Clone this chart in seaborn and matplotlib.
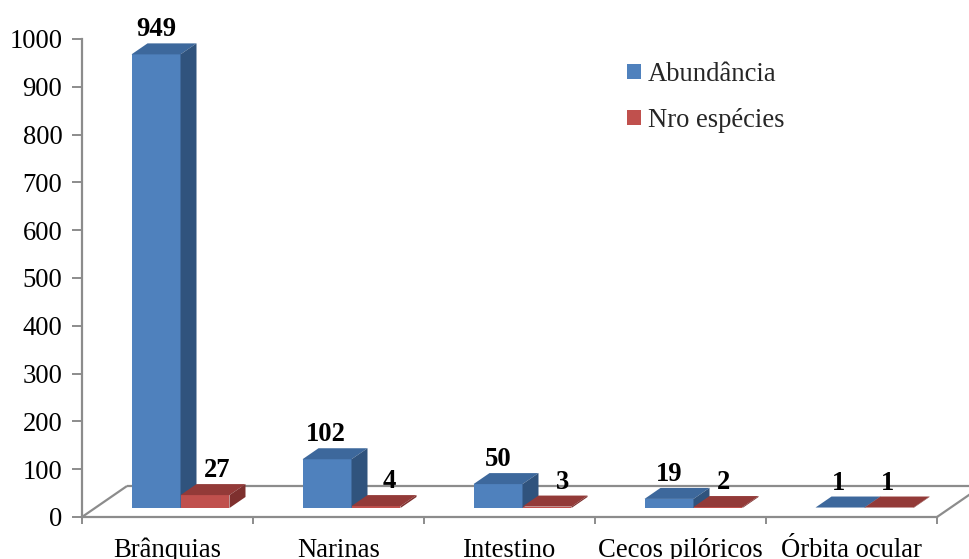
import matplotlib
matplotlib.use("Agg")
import matplotlib.pyplot as plt
import matplotlib.transforms as mtransforms
from matplotlib.patches import Polygon, Patch
import pandas as pd
import seaborn as sns

# --- data -------------------------------------------------------------
categories = ["Brânquias", "Narinas", "Intestino", "Cecos pilóricos", "Órbita ocular"]
abundancia = [949, 102, 50, 19, 1]
nro_especies = [27, 4, 3, 2, 1]
series_names = ["Abundância", "Nro espécies"]
y_ticks = list(range(0, 1001, 100))

# --- style ------------------------------------------------------------
front_colors = {"Abundância": "#4f81bd", "Nro espécies": "#c0504d"}
top_colors = {"Abundância": "#3d689c", "Nro espécies": "#933a38"}
side_colors = {"Abundância": "#30537d", "Nro espécies": "#7e302e"}
axis_gray = "#8c8c8c"
FS = 19.2

# horizontal nudges (pixels) for value labels of each series
label_nudge = {"Abundância": [0, -1, 0, 0, -2], "Nro espécies": [12, 13, 16, 6, -1]}

sns.set_theme(style="white")
plt.rcParams["font.family"] = ["Liberation Serif", "DejaVu Serif"]

df = pd.DataFrame({
    "categoria": categories * 2,
    "serie": [series_names[0]] * len(categories) + [series_names[1]] * len(categories),
    "valor": abundancia + nro_especies,
})

DPI = 100
W, H = 969, 559
fig = plt.figure(figsize=(W / DPI, H / DPI), dpi=DPI)
left_px, right_px, y0_px, ytop_px = 82, 937, 517, 39
ax = fig.add_axes([left_px / W, (H - y0_px) / H,
                   (right_px - left_px) / W, (y0_px - ytop_px) / H])

sns.barplot(data=df, x="categoria", y="valor", hue="serie",
            order=categories, hue_order=series_names, palette=front_colors,
            width=0.573, gap=0, saturation=1, errorbar=None, legend=False,
            linewidth=0, ax=ax)

ax.set_xlim(-0.5, len(categories) - 0.5)
ax.set_ylim(y_ticks[0], y_ticks[-1])
ax.set_xlabel("")
ax.set_ylabel("")
ax.grid(False)

# pixel -> data conversions for the 3-D depth effect
p0 = ax.transData.transform((0, 0))
p1 = ax.transData.transform((1, 1))
px_x = p1[0] - p0[0]
px_y = p1[1] - p0[1]

# bars sit in the middle of the floor depth
shifted = mtransforms.offset_copy(ax.transData, fig=fig, x=13, y=9, units="dots")
depth_dx = 16 / px_x
depth_dy = 11 / px_y

for k, (name, cont) in enumerate(zip(series_names, ax.containers)):
    z = 3 + k
    for i, rect in enumerate(cont.patches):
        x0 = rect.get_x()
        w = rect.get_width()
        h = rect.get_height()
        rect.set_transform(shifted)
        rect.set_clip_on(False)
        rect.set_zorder(z)
        top = Polygon([(x0, h), (x0 + w, h), (x0 + w + depth_dx, h + depth_dy),
                       (x0 + depth_dx, h + depth_dy)], closed=True,
                      facecolor=top_colors[name], edgecolor="none",
                      transform=shifted, clip_on=False, zorder=z)
        side = Polygon([(x0 + w, 0), (x0 + w + depth_dx, depth_dy),
                        (x0 + w + depth_dx, h + depth_dy), (x0 + w, h)], closed=True,
                       facecolor=side_colors[name], edgecolor="none",
                       transform=shifted, clip_on=False, zorder=z)
        ax.add_patch(top)
        ax.add_patch(side)
        lbl_tr = mtransforms.offset_copy(ax.transData, fig=fig,
                                         x=13 + label_nudge[name][i], y=9 + 11 + 7,
                                         units="dots")
        ax.text(x0 + w / 2, h, f"{h:.0f}", transform=lbl_tr, ha="center",
                va="baseline", fontsize=FS, fontweight="bold", color="black",
                zorder=8, clip_on=False)

# floor outline
floor_dx = 45 / px_x
floor_dy = 31 / px_y
xl, xr = -0.5, len(categories) - 0.5
floor_kw = dict(color=axis_gray, lw=1.6, clip_on=False, zorder=1,
                solid_capstyle="butt")
ax.plot([xl, xl + floor_dx], [0, floor_dy], **floor_kw)
ax.plot([xl + floor_dx, xr + floor_dx], [floor_dy, floor_dy], **floor_kw)
ax.plot([xr, xr + floor_dx], [0, floor_dy], **floor_kw)

# axes styling
for s in ("top", "right"):
    ax.spines[s].set_visible(False)
for s in ("left", "bottom"):
    ax.spines[s].set_color(axis_gray)
    ax.spines[s].set_linewidth(1.6)
    ax.spines[s].set_zorder(2)

ax.set_yticks(y_ticks)
ax.set_yticklabels([str(v) for v in y_ticks])
ax.tick_params(axis="y", which="major", direction="out", length=7.2, width=1.4,
               color=axis_gray, pad=7, labelsize=FS, labelcolor="black", left=True)

ax.set_xticks(range(len(categories)))
ax.set_xticklabels(categories)
ax.set_xticks([x - 0.5 for x in range(len(categories) + 1)], minor=True)
ax.tick_params(axis="x", which="major", length=0, pad=15, labelsize=FS,
               labelcolor="black")
ax.tick_params(axis="x", which="minor", direction="out", length=5, width=1.4,
               color=axis_gray, bottom=True)

handles = [Patch(facecolor=front_colors[n], edgecolor="none", label=n)
           for n in series_names]
fig.legend(handles=handles, loc="upper left",
           bbox_to_anchor=(627 / W, (H - 62) / H), frameon=False,
           fontsize=FS, handlelength=0.54, handleheight=0.46,
           handletextpad=0.25, labelspacing=0.78, borderpad=0, borderaxespad=0)

fig.savefig("out.png", dpi=DPI)
